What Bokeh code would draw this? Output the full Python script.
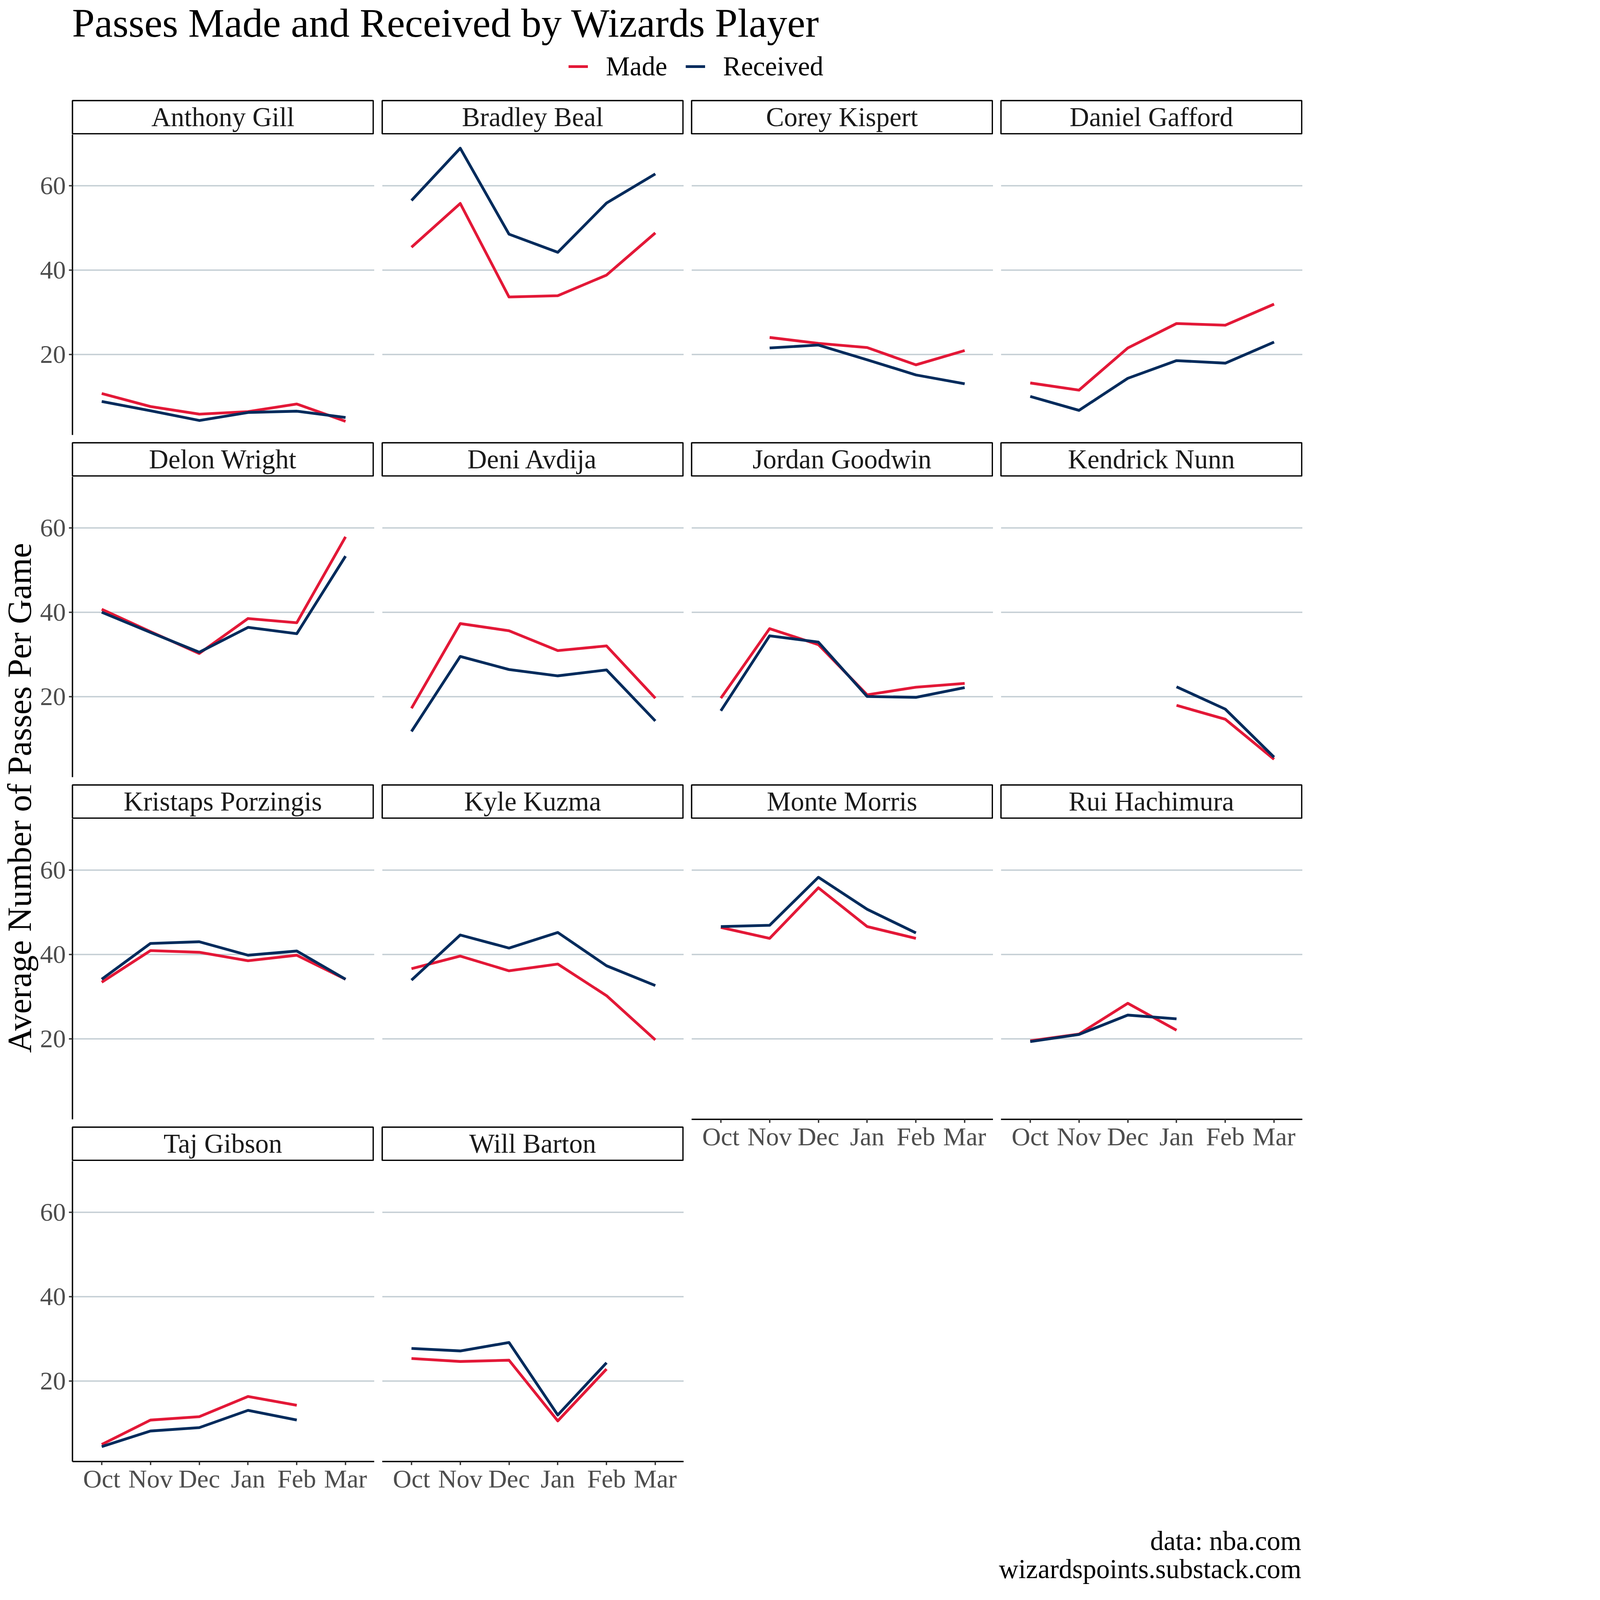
import math
from bokeh.plotting import figure
from bokeh.layouts import row, column
from bokeh.models import Range1d, FixedTicker, Grid, Legend, LegendItem
from bokeh.core.properties import value
from bokeh.embed import file_html
from bokeh.resources import INLINE

# ---------------- data ----------------
months = ["Oct", "Nov", "Dec", "Jan", "Feb", "Mar"]
players = ["Anthony Gill", "Bradley Beal", "Corey Kispert", "Daniel Gafford",
           "Delon Wright", "Deni Avdija", "Jordan Goodwin", "Kendrick Nunn",
           "Kristaps Porzingis", "Kyle Kuzma", "Monte Morris", "Rui Hachimura",
           "Taj Gibson", "Will Barton"]

gill_made = [10.7, 7.6, 5.8, 6.4, 8.2, 4.1]
gill_received = [8.8, 6.6, 4.3, 6.2, 6.5, 5.0]
beal_made = [45.4, 55.8, 33.6, 33.9, 38.8, 48.8]
beal_received = [56.5, 68.9, 48.5, 44.2, 55.9, 62.8]
kispert_made = [None, 24.0, 22.6, 21.6, 17.5, 20.9]
kispert_received = [None, 21.5, 22.2, 18.7, 15.1, 13.0]
gafford_made = [13.2, 11.5, 21.5, 27.3, 26.9, 31.9]
gafford_received = [10.0, 6.7, 14.3, 18.5, 17.9, 22.9]
wright_made = [40.7, 35.4, 30.2, 38.5, 37.5, 57.9]
wright_received = [40.0, 35.2, 30.5, 36.4, 34.9, 53.3]
avdija_made = [17.2, 37.3, 35.6, 30.9, 32.0, 19.6]
avdija_received = [11.7, 29.5, 26.4, 24.9, 26.3, 14.2]
goodwin_made = [19.6, 36.1, 32.3, 20.4, 22.2, 23.1]
goodwin_received = [16.6, 34.4, 32.9, 20.0, 19.8, 22.1]
nunn_made = [None, None, None, 17.9, 14.6, 5.1]
nunn_received = [None, None, None, 22.3, 17.0, 5.6]
porzingis_made = [33.4, 40.9, 40.5, 38.5, 39.8, 34.1]
porzingis_received = [34.1, 42.6, 43.0, 39.8, 40.8, 34.1]
kuzma_made = [36.6, 39.6, 36.1, 37.7, 30.2, 19.7]
kuzma_received = [33.9, 44.6, 41.5, 45.2, 37.3, 32.6]
morris_made = [46.4, 43.8, 55.8, 46.6, 43.8, None]
morris_received = [46.6, 46.9, 58.3, 50.7, 45.1, None]
hachimura_made = [19.5, 21.1, 28.4, 22.0, None, None]
hachimura_received = [19.3, 21.0, 25.6, 24.7, None, None]
gibson_made = [4.9, 10.7, 11.5, 16.3, 14.2, None]
gibson_received = [4.4, 8.1, 8.9, 13.0, 10.7, None]
barton_made = [25.3, 24.6, 24.9, 10.5, 22.8, None]
barton_received = [27.7, 27.1, 29.1, 11.9, 24.3, None]

y_ticks = [20, 40, 60]

made_series = [gill_made, beal_made, kispert_made, gafford_made, wright_made,
               avdija_made, goodwin_made, nunn_made, porzingis_made, kuzma_made,
               morris_made, hachimura_made, gibson_made, barton_made]
received_series = [gill_received, beal_received, kispert_received, gafford_received,
                   wright_received, avdija_received, goodwin_received, nunn_received,
                   porzingis_received, kuzma_received, morris_received,
                   hachimura_received, gibson_received, barton_received]

title_text = "Passes Made and Received by Wizards Player"
ytitle_text = "Average Number of Passes Per Game"
caption_lines = ["data: nba.com", "wizardspoints.substack.com"]

# ---------------- style (whole page scaled to fit a 4096 px capture) ----------------
MADE = "#E31837"
RECV = "#002B5C"
GRIDC = "#C4CED4"
FONT = "Liberation Serif"
TICKC = "#4D4D4D"

W_FRAME, H_FRAME = 774, 769
STRIP_H = 89
GAP = 18
LEFT1 = 85
YT_W = 98
HDR_H = 255
AB = 120
LW_AXIS = 3.5
LW_DATA = 7.1
TICK_LEN = 9
FS_STRIP = "69px"
FS_TICK = "66px"
TOTAL_W = YT_W + LEFT1 + W_FRAME + 3 * (GAP + W_FRAME)
GRID_H = 4 * STRIP_H + 3 * (H_FRAME + GAP) + H_FRAME + AB
FTR_H = 4067 - HDR_H - GRID_H

all_vals = [v for s in made_series + received_series for v in s if v is not None]
vmin, vmax = min(all_vals), max(all_vals)
span = vmax - vmin
y_lo, y_hi = vmin - 0.05 * span, vmax + 0.05 * span


def blank(width, height):
    p = figure(width=width, height=height, x_range=Range1d(0, width),
               y_range=Range1d(0, height), x_axis_location=None,
               y_axis_location=None, output_backend="svg",
               toolbar_location=None, min_border=0)
    p.grid.visible = False
    p.outline_line_color = None
    p.background_fill_color = "white"
    p.border_fill_color = "white"
    return p


def style_axis(ax):
    ax.axis_line_color = "black"
    ax.axis_line_width = LW_AXIS
    ax.major_tick_line_color = "#333333"
    ax.major_tick_line_width = LW_AXIS
    ax.major_tick_out = TICK_LEN
    ax.major_tick_in = 0
    ax.minor_tick_line_color = None
    ax.major_label_text_font = FONT
    ax.major_label_text_font_size = FS_TICK
    ax.major_label_text_color = TICKC


def strip(name, col):
    lb = (LEFT1 if col == 0 else GAP) + 2
    fw, fh = W_FRAME - 4, STRIP_H - 4
    p = figure(frame_width=fw, frame_height=fh,
               min_border_left=lb, min_border_right=2, min_border_top=2,
               min_border_bottom=2, x_range=Range1d(0, fw),
               y_range=Range1d(0, fh), x_axis_location=None,
               y_axis_location=None, output_backend="svg",
               toolbar_location=None)
    p.grid.visible = False
    p.outline_line_color = "black"
    p.outline_line_width = LW_AXIS
    p.background_fill_color = "white"
    p.border_fill_color = "white"
    p.text(x=[fw / 2], y=[fh / 2], text=[name], text_font=value(FONT),
           text_font_size=FS_STRIP, text_align="center",
           text_baseline="middle", text_color="#1A1A1A")
    return p


def panel(idx, col, bottom):
    lb = LEFT1 if col == 0 else GAP
    bb = AB if bottom else GAP
    p = figure(frame_width=W_FRAME, frame_height=H_FRAME,
               min_border_left=lb, min_border_right=0, min_border_top=0,
               min_border_bottom=bb, x_range=Range1d(-0.6, len(months) - 0.4),
               y_range=Range1d(y_lo, y_hi),
               x_axis_location="below" if bottom else None,
               y_axis_location="left" if col == 0 else None,
               output_backend="svg", toolbar_location=None)
    p.center = []
    p.add_layout(Grid(dimension=1, ticker=FixedTicker(ticks=y_ticks),
                      grid_line_color=GRIDC, grid_line_width=LW_AXIS))
    p.outline_line_color = None
    p.background_fill_color = "white"
    p.border_fill_color = "white"
    if bottom:
        ax = p.xaxis[0]
        style_axis(ax)
        ax.ticker = FixedTicker(ticks=list(range(len(months))))
        ax.major_label_overrides = {i: m for i, m in enumerate(months)}
        ax.major_label_standoff = -2
    if col == 0:
        ax = p.yaxis[0]
        style_axis(ax)
        ax.ticker = FixedTicker(ticks=y_ticks)
        ax.major_label_standoff = 8
    for series, colr in ((made_series[idx], MADE), (received_series[idx], RECV)):
        xs = [i for i, v in enumerate(series) if v is not None]
        ys = [v for v in series if v is not None]
        p.line(x=xs, y=ys, line_color=colr, line_width=LW_DATA,
               line_join="round", line_cap="butt")
    return p


# ---------------- header ----------------
hdr = blank(TOTAL_W, HDR_H)
hdr.text(x=[YT_W + LEFT1 + 1], y=[HDR_H - 58], text=[title_text],
         text_font=value(FONT), text_font_size="104px", text_align="left",
         text_baseline="middle", text_color="black")
# legend-only renderers (a single NaN point draws nothing on the canvas)
r_made = hdr.line(x=[math.nan], y=[math.nan], line_color=MADE, line_width=LW_DATA)
r_recv = hdr.line(x=[math.nan], y=[math.nan], line_color=RECV, line_width=LW_DATA)
legend = Legend(items=[LegendItem(label="Made", renderers=[r_made]),
                       LegendItem(label="Received", renderers=[r_recv])],
                location=(1455, 45), orientation="horizontal",
                glyph_width=50, glyph_height=80, label_height=80,
                label_standoff=46, spacing=47, padding=0, margin=0,
                border_line_color=None, background_fill_alpha=0,
                label_text_font=FONT, label_text_font_size="69px",
                label_text_color="black")
hdr.add_layout(legend)

# ---------------- y title ----------------
yt = blank(YT_W, GRID_H)
yt.text(x=[49], y=[GRID_H - 1787], text=[ytitle_text], text_font=value(FONT),
        text_font_size="87px", text_align="center", text_baseline="middle",
        angle=math.pi / 2, text_color="black")

# ---------------- facets ----------------
ncol = 4
cols = []
for c in range(ncol):
    idxs = [i for i in range(len(players)) if i % ncol == c]
    kids = []
    for k, i in enumerate(idxs):
        kids.append(strip(players[i], c))
        kids.append(panel(i, c, k == len(idxs) - 1))
    cols.append(column(*kids, spacing=0))

grid = row(yt, *cols, spacing=0)

# ---------------- footer ----------------
ftr = blank(TOTAL_W, FTR_H)
ftr.text(x=[TOTAL_W - 2, TOTAL_W - 2], y=[FTR_H - 83, FTR_H - 155],
         text=caption_lines, text_font=value(FONT), text_font_size="69px",
         text_align="right", text_baseline="middle", text_color="black")

layout = column(hdr, grid, ftr, spacing=0)
open("out.html", "w").write(file_html(layout, INLINE))
